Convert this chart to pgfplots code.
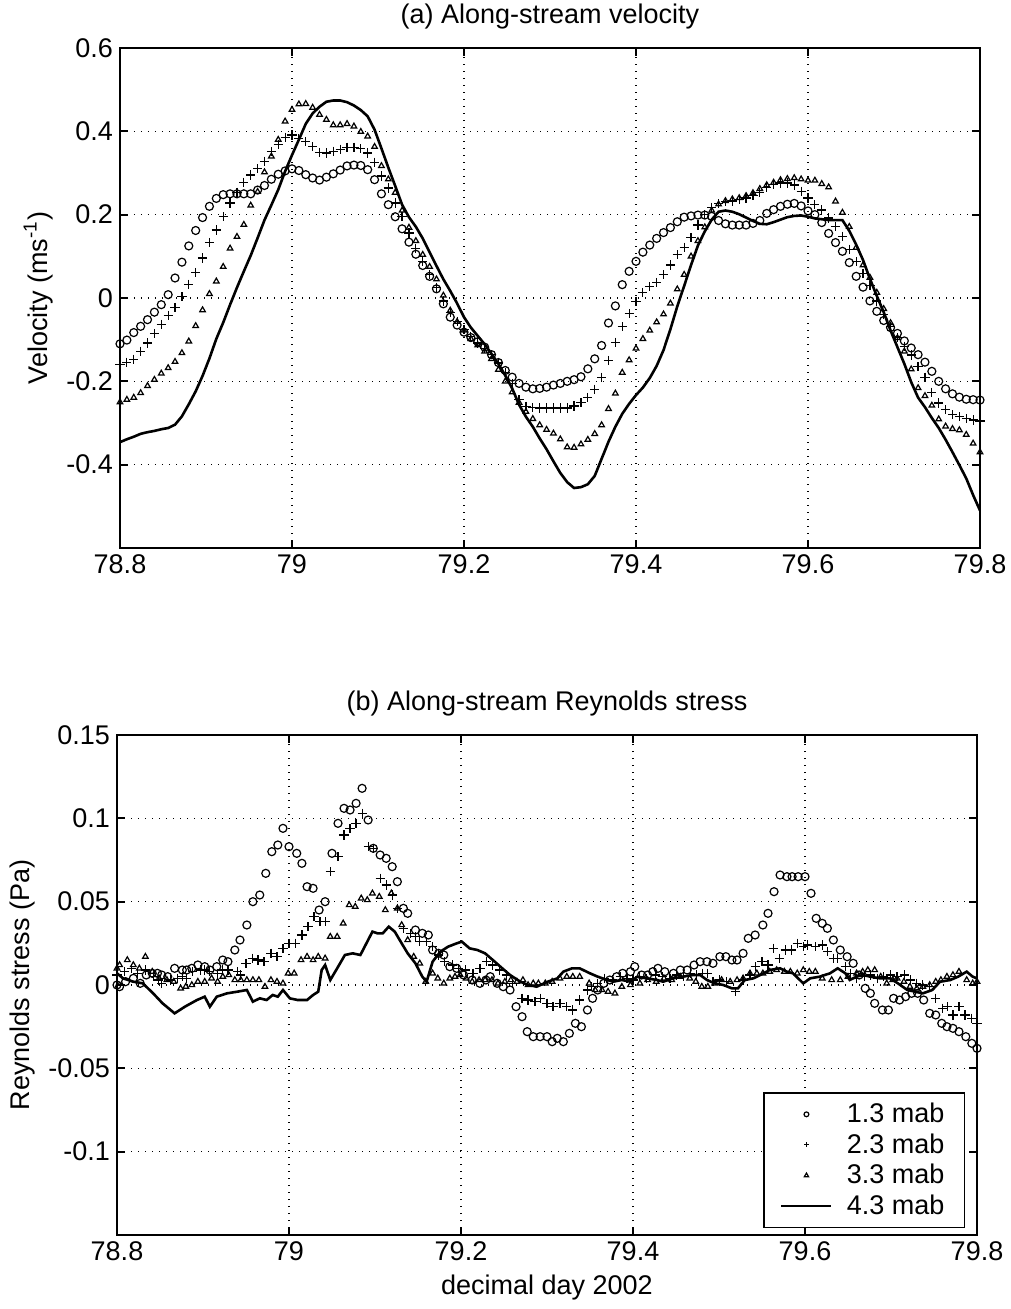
\documentclass[border=0pt]{standalone}
\usepackage{fontspec}
\setmainfont{Liberation Sans}
\usepackage{pgfplots}
\usepackage{pgfplotstable}
\pgfplotsset{compat=1.18}

\newcommand{\fs}{\fontsize{13.5}{16}\selectfont}

% along-stream velocity, four heights above bed (mab)
\pgfplotstableread{
x      u13    u23    u33    u43
78.800 -0.110 -0.160 -0.250 -0.346
78.808 -0.101 -0.154 -0.244 -0.339
78.816 -0.083 -0.147 -0.239 -0.333
78.824 -0.068 -0.128 -0.228 -0.326
78.832 -0.052 -0.108 -0.211 -0.322
78.840 -0.034 -0.086 -0.196 -0.319
78.848 -0.016 -0.063 -0.181 -0.315
78.856 0.008 -0.042 -0.168 -0.312
78.864 0.048 -0.023 -0.153 -0.304
78.872 0.086 0.003 -0.132 -0.284
78.880 0.125 0.033 -0.104 -0.255
78.888 0.162 0.061 -0.067 -0.224
78.896 0.193 0.096 -0.029 -0.187
78.904 0.220 0.133 0.010 -0.145
78.912 0.239 0.163 0.040 -0.098
78.920 0.248 0.195 0.075 -0.059
78.928 0.250 0.228 0.119 -0.016
78.936 0.250 0.254 0.147 0.025
78.944 0.250 0.278 0.176 0.064
78.952 0.250 0.295 0.222 0.102
78.960 0.259 0.310 0.255 0.144
78.968 0.270 0.328 0.302 0.187
78.976 0.285 0.351 0.340 0.223
78.984 0.297 0.369 0.380 0.260
78.992 0.305 0.386 0.424 0.304
79.000 0.310 0.391 0.452 0.343
79.008 0.306 0.383 0.465 0.380
79.016 0.296 0.375 0.466 0.418
79.024 0.288 0.363 0.457 0.443
79.032 0.283 0.349 0.440 0.459
79.040 0.290 0.348 0.428 0.471
79.048 0.298 0.352 0.415 0.474
79.056 0.307 0.357 0.415 0.474
79.064 0.317 0.362 0.418 0.470
79.072 0.319 0.362 0.412 0.462
79.080 0.318 0.358 0.399 0.451
79.088 0.308 0.348 0.388 0.436
79.096 0.284 0.326 0.363 0.404
79.104 0.250 0.293 0.317 0.359
79.112 0.224 0.264 0.285 0.313
79.120 0.195 0.228 0.253 0.269
79.128 0.166 0.195 0.210 0.224
79.136 0.134 0.156 0.169 0.194
79.144 0.105 0.118 0.137 0.171
79.152 0.078 0.087 0.104 0.143
79.160 0.052 0.056 0.075 0.110
79.168 0.022 0.026 0.045 0.077
79.176 -0.014 -0.007 0.006 0.045
79.184 -0.046 -0.034 -0.030 0.017
79.192 -0.065 -0.056 -0.057 -0.013
79.200 -0.082 -0.076 -0.078 -0.046
79.208 -0.095 -0.092 -0.098 -0.071
79.216 -0.105 -0.108 -0.113 -0.091
79.224 -0.118 -0.121 -0.128 -0.111
79.232 -0.136 -0.136 -0.146 -0.134
79.240 -0.155 -0.156 -0.172 -0.158
79.248 -0.174 -0.178 -0.200 -0.186
79.256 -0.190 -0.205 -0.226 -0.217
79.264 -0.205 -0.244 -0.251 -0.256
79.272 -0.214 -0.260 -0.273 -0.285
79.280 -0.218 -0.263 -0.290 -0.309
79.288 -0.217 -0.264 -0.305 -0.337
79.296 -0.214 -0.264 -0.316 -0.363
79.304 -0.209 -0.264 -0.325 -0.392
79.312 -0.205 -0.264 -0.339 -0.420
79.320 -0.200 -0.264 -0.358 -0.442
79.328 -0.196 -0.259 -0.359 -0.456
79.336 -0.189 -0.251 -0.351 -0.454
79.344 -0.170 -0.239 -0.340 -0.447
79.352 -0.146 -0.219 -0.326 -0.427
79.360 -0.114 -0.190 -0.305 -0.386
79.368 -0.060 -0.150 -0.266 -0.345
79.376 -0.019 -0.106 -0.229 -0.309
79.384 0.032 -0.069 -0.179 -0.278
79.392 0.064 -0.037 -0.149 -0.254
79.400 0.088 -0.008 -0.121 -0.233
79.408 0.110 0.013 -0.098 -0.215
79.416 0.127 0.027 -0.078 -0.192
79.424 0.143 0.037 -0.058 -0.163
79.432 0.157 0.056 -0.039 -0.125
79.440 0.169 0.079 -0.013 -0.075
79.448 0.183 0.104 0.021 -0.020
79.456 0.194 0.122 0.056 0.029
79.464 0.197 0.145 0.100 0.079
79.472 0.199 0.175 0.137 0.126
79.480 0.199 0.200 0.170 0.160
79.488 0.196 0.218 0.210 0.188
79.496 0.186 0.226 0.225 0.207
79.504 0.178 0.231 0.233 0.210
79.512 0.175 0.233 0.237 0.207
79.520 0.175 0.236 0.240 0.201
79.528 0.175 0.240 0.245 0.193
79.536 0.179 0.246 0.252 0.185
79.544 0.186 0.254 0.262 0.178
79.552 0.203 0.265 0.271 0.177
79.560 0.212 0.273 0.277 0.182
79.568 0.220 0.276 0.283 0.188
79.576 0.225 0.276 0.286 0.194
79.584 0.227 0.271 0.288 0.197
79.592 0.221 0.256 0.285 0.198
79.600 0.209 0.240 0.282 0.195
79.608 0.200 0.224 0.282 0.191
79.616 0.181 0.211 0.274 0.189
79.624 0.155 0.192 0.266 0.187
79.632 0.133 0.171 0.232 0.187
79.640 0.112 0.148 0.205 0.187
79.648 0.085 0.117 0.171 0.161
79.656 0.052 0.087 0.121 0.128
79.664 0.026 0.059 0.079 0.091
79.672 -0.007 0.030 0.049 0.046
79.680 -0.032 -0.007 0.013 0.005
79.688 -0.054 -0.040 -0.026 -0.034
79.696 -0.071 -0.069 -0.060 -0.078
79.704 -0.085 -0.095 -0.096 -0.118
79.712 -0.103 -0.116 -0.128 -0.158
79.720 -0.120 -0.137 -0.171 -0.202
79.728 -0.136 -0.165 -0.216 -0.239
79.736 -0.154 -0.190 -0.235 -0.262
79.744 -0.176 -0.226 -0.258 -0.288
79.752 -0.200 -0.252 -0.291 -0.312
79.760 -0.218 -0.268 -0.308 -0.340
79.768 -0.230 -0.280 -0.314 -0.370
79.776 -0.238 -0.285 -0.317 -0.401
79.784 -0.243 -0.289 -0.328 -0.433
79.792 -0.244 -0.293 -0.349 -0.473
79.800 -0.245 -0.295 -0.370 -0.510
}\veltable

% Reynolds stress, one table per height
\pgfplotstableread{
x y
78.800 0.000
78.803 -0.001
78.810 0.002
78.819 0.004
78.827 0.001
78.834 0.006
78.841 0.007
78.847 0.007
78.852 0.006
78.859 0.005
78.867 0.010
78.876 0.009
78.881 0.009
78.887 0.010
78.894 0.012
78.902 0.011
78.908 0.009
78.916 0.011
78.923 0.015
78.929 0.014
78.937 0.021
78.943 0.027
78.951 0.036
78.958 0.050
78.966 0.054
78.973 0.067
78.980 0.080
78.987 0.084
78.993 0.094
79.000 0.083
79.009 0.079
79.015 0.073
79.021 0.059
79.028 0.058
79.035 0.045
79.042 0.050
79.050 0.079
79.057 0.097
79.064 0.106
79.071 0.105
79.078 0.109
79.085 0.118
79.092 0.099
79.098 0.082
79.106 0.078
79.113 0.076
79.120 0.071
79.126 0.062
79.133 0.046
79.138 0.043
79.147 0.033
79.155 0.031
79.162 0.030
79.167 0.021
79.174 0.019
79.180 0.018
79.187 0.011
79.195 0.010
79.203 0.006
79.213 0.003
79.222 0.001
79.229 0.003
79.234 0.005
79.242 0.001
79.249 -0.001
79.257 -0.003
79.264 -0.013
79.271 -0.019
79.277 -0.028
79.284 -0.031
79.292 -0.031
79.300 -0.031
79.306 -0.034
79.312 -0.032
79.319 -0.034
79.326 -0.029
79.333 -0.023
79.340 -0.025
79.347 -0.015
79.353 -0.008
79.359 -0.003
79.366 0.001
79.373 0.003
79.381 0.005
79.388 0.007
79.397 0.008
79.402 0.011
79.410 0.006
79.417 0.006
79.423 0.008
79.429 0.010
79.437 0.008
79.447 0.007
79.455 0.009
79.463 0.009
79.471 0.012
79.478 0.014
79.486 0.014
79.493 0.013
79.501 0.017
79.508 0.017
79.515 0.015
79.521 0.015
79.528 0.019
79.534 0.028
79.542 0.030
79.551 0.036
79.557 0.043
79.564 0.056
79.571 0.066
79.579 0.065
79.585 0.065
79.592 0.065
79.600 0.065
79.607 0.055
79.613 0.040
79.620 0.037
79.626 0.034
79.633 0.027
79.641 0.021
79.649 0.017
79.656 0.013
79.663 0.006
79.670 -0.002
79.676 -0.005
79.681 -0.011
79.690 -0.015
79.697 -0.015
79.703 -0.008
79.710 -0.009
79.717 -0.007
79.724 -0.005
79.731 -0.005
79.738 -0.009
79.745 -0.017
79.752 -0.018
79.759 -0.023
79.765 -0.025
79.772 -0.026
79.779 -0.028
79.787 -0.031
79.794 -0.035
79.800 -0.038
}\rsa

\pgfplotstableread{
x y
78.800 0.006
78.809 0.008
78.817 0.010
78.824 0.007
78.833 0.009
78.842 0.005
78.848 0.003
78.852 0.001
78.862 0.003
78.870 0.004
78.876 0.005
78.881 0.004
78.888 0.008
78.897 0.009
78.902 0.009
78.908 0.008
78.917 0.007
78.923 0.009
78.929 0.009
78.940 0.008
78.944 0.006
78.950 0.013
78.958 0.016
78.964 0.015
78.971 0.014
78.979 0.019
78.986 0.017
78.993 0.022
79.000 0.025
79.008 0.025
79.015 0.030
79.022 0.035
79.029 0.041
79.036 0.038
79.042 0.038
79.048 0.068
79.057 0.077
79.064 0.090
79.071 0.094
79.078 0.097
79.085 0.103
79.092 0.083
79.098 0.082
79.106 0.064
79.113 0.060
79.120 0.054
79.126 0.046
79.133 0.034
79.141 0.031
79.147 0.029
79.152 0.026
79.160 0.026
79.167 0.023
79.174 0.018
79.181 0.014
79.190 0.012
79.197 0.010
79.205 0.009
79.214 0.007
79.222 0.010
79.230 0.014
79.237 0.012
79.245 0.009
79.253 0.006
79.260 0.001
79.271 -0.008
79.278 -0.009
79.286 -0.010
79.292 -0.008
79.300 -0.011
79.307 -0.013
79.315 -0.011
79.323 -0.013
79.330 -0.015
79.338 -0.009
79.347 -0.003
79.352 -0.001
79.359 0.001
79.367 0.004
79.376 0.003
79.385 0.005
79.393 0.004
79.400 0.003
79.408 0.005
79.416 0.004
79.426 0.006
79.434 0.005
79.443 0.004
79.451 0.006
79.459 0.005
79.467 0.007
79.474 0.006
79.481 0.007
79.487 0.007
79.493 0.002
79.501 0.003
79.509 0.002
79.519 -0.004
79.528 0.003
79.536 0.006
79.542 0.011
79.550 0.014
79.557 0.012
79.563 0.022
79.570 0.016
79.577 0.021
79.584 0.021
79.591 0.025
79.598 0.023
79.603 0.024
79.612 0.023
79.620 0.024
79.626 0.020
79.633 0.016
79.638 0.016
79.647 0.011
79.653 0.007
79.660 0.004
79.669 0.005
79.676 0.006
79.684 0.004
79.691 0.005
79.699 0.006
79.707 0.005
79.716 0.006
79.723 0.003
79.730 0.001
79.737 0.000
79.745 -0.001
79.752 -0.008
79.760 -0.014
79.766 -0.013
79.772 -0.018
79.779 -0.013
79.786 -0.018
79.794 -0.020
79.800 -0.023
}\rsb

\pgfplotstableread{
x y
78.800 0.010
78.803 0.012
78.812 0.015
78.819 0.012
78.826 0.010
78.833 0.017
78.841 0.008
78.849 0.004
78.858 0.003
78.866 0.002
78.874 -0.002
78.880 -0.001
78.887 0.000
78.894 0.002
78.902 0.002
78.910 0.004
78.917 0.002
78.923 0.005
78.930 0.006
78.937 0.003
78.944 0.003
78.951 0.003
78.958 0.003
78.965 0.003
78.972 -0.001
78.979 0.003
78.986 0.002
78.993 0.001
78.999 0.007
79.006 0.007
79.014 0.015
79.021 0.017
79.028 0.015
79.034 0.017
79.042 0.016
79.048 0.029
79.056 0.029
79.063 0.037
79.070 0.048
79.077 0.047
79.084 0.052
79.091 0.051
79.097 0.055
79.105 0.053
79.112 0.045
79.119 0.055
79.126 0.046
79.131 0.036
79.138 0.027
79.145 0.017
79.152 0.013
79.159 0.002
79.167 0.007
79.173 0.004
79.180 0.001
79.187 0.004
79.193 0.005
79.199 0.006
79.206 0.004
79.213 0.002
79.221 0.003
79.228 0.003
79.236 0.003
79.243 0.001
79.251 0.002
79.258 0.003
79.265 0.002
79.272 0.003
79.278 0.000
79.284 0.001
79.290 0.001
79.298 0.001
79.306 0.002
79.315 0.004
79.323 0.005
79.330 0.005
79.338 0.005
79.349 0.001
79.356 -0.003
79.364 -0.003
79.371 -0.004
79.379 -0.005
79.387 -0.001
79.397 0.000
79.408 0.001
79.417 0.003
79.427 0.002
79.436 0.004
79.445 0.003
79.455 0.005
79.466 0.004
79.473 0.002
79.480 -0.001
79.487 -0.001
79.495 0.001
79.503 0.003
79.513 0.002
79.521 0.003
79.528 0.004
79.536 0.007
79.544 0.007
79.551 0.007
79.559 0.008
79.567 0.009
79.576 0.008
79.583 0.008
79.591 0.007
79.598 0.009
79.605 0.008
79.612 0.008
79.620 0.004
79.631 0.003
79.641 0.003
79.650 0.005
79.660 0.007
79.667 0.008
79.673 0.009
79.681 0.009
79.688 0.005
79.695 0.001
79.702 0.003
79.707 0.004
79.715 0.002
79.722 -0.001
79.730 -0.002
79.737 -0.001
79.745 0.000
79.752 0.002
79.758 0.003
79.765 0.005
79.772 0.006
79.779 0.008
79.788 0.003
79.795 0.001
79.800 0.002
}\rsc

\pgfplotstableread{
x y
78.800 0.007
78.807 0.004
78.819 0.002
78.830 0.001
78.842 -0.005
78.853 -0.011
78.867 -0.017
78.879 -0.013
78.893 -0.009
78.902 -0.007
78.908 -0.013
78.916 -0.007
78.928 -0.005
78.940 -0.004
78.951 -0.003
78.958 -0.010
78.966 -0.008
78.974 -0.009
78.981 -0.006
78.987 -0.007
78.993 -0.003
79.001 -0.008
79.010 -0.009
79.021 -0.009
79.028 -0.006
79.034 -0.004
79.038 0.009
79.042 0.012
79.048 0.003
79.056 0.010
79.065 0.018
79.074 0.019
79.083 0.018
79.088 0.023
79.097 0.032
79.103 0.031
79.109 0.031
79.116 0.035
79.123 0.032
79.131 0.025
79.138 0.019
79.147 0.013
79.155 0.005
79.160 0.002
79.167 0.014
79.176 0.020
79.185 0.023
79.195 0.025
79.201 0.026
79.210 0.022
79.219 0.021
79.228 0.019
79.237 0.015
79.248 0.010
79.257 0.006
79.269 0.002
79.278 0.000
79.288 -0.001
79.301 0.002
79.312 0.004
79.319 0.008
79.329 0.010
79.338 0.010
79.350 0.007
79.359 0.005
79.370 0.003
79.377 0.002
79.387 0.003
79.397 0.002
79.405 0.005
79.416 0.004
79.428 0.003
79.435 0.002
79.447 0.004
79.458 0.005
79.470 0.006
79.478 0.006
79.486 0.003
79.495 0.001
79.505 0.000
79.515 -0.002
79.522 -0.002
79.530 0.003
79.540 0.004
79.548 0.006
79.559 0.009
79.571 0.010
79.579 0.008
79.586 0.007
79.598 0.001
79.606 0.004
79.617 0.005
79.629 0.007
79.638 0.010
79.647 0.007
79.652 0.003
79.660 0.005
79.667 0.006
79.676 0.005
79.687 0.004
79.699 0.004
79.708 0.001
79.719 -0.003
79.728 -0.004
79.737 -0.005
79.748 -0.003
79.757 0.002
79.769 0.003
79.778 0.005
79.788 0.008
79.795 0.005
79.800 0.004
}\rsd

\pgfplotsset{
  panel/.style={
    scale only axis, width=430pt, height=250pt,
    xmin=78.8, xmax=79.8,
    xtick={78.8,79,79.2,79.4,79.6,79.8},
    grid=major,
    grid style={black, line width=0.7pt, dash pattern=on 0.7pt off 2.8pt},
    axis line style={line width=0.9pt},
    tick align=inside,
    major tick length=4pt,
    tick style={black, line width=0.9pt},
    tick label style={font=\fs},
    label style={font=\fs},
    title style={font=\fs},
    /pgf/number format/assume math mode=true,
    /pgf/number format/fixed,
    /pgf/number format/precision=2,
    scaled ticks=false,
    legend image code/.code={
      \draw[mark repeat=2,mark phase=2,##1] plot coordinates {(0pt,0pt) (12.5pt,0pt) (25pt,0pt)};
    },
  },
  s13/.style={only marks, mark=o, mark size=2pt, line width=0.6pt, black},
  s23/.style={only marks, mark=+, mark size=2.3pt, line width=0.6pt, black},
  s33/.style={only marks, mark=triangle, mark size=1.6pt, line width=0.6pt, black},
  s43/.style={no marks, line width=1.3pt, black},
}

\begin{document}
\begin{tikzpicture}
\useasboundingbox (-60pt,-380.5pt) rectangle (445pt,274pt);

\begin{axis}[panel,
  at={(0pt,0pt)}, anchor=south west,
  ymin=-0.6, ymax=0.6,
  ytick={-0.4,-0.2,0,0.2,0.4,0.6},
  title={(a) Along-stream velocity},
  ylabel={Velocity (ms\textsuperscript{-1})},
]
\addplot[s13] table[x=x, y=u13] {\veltable};
\addplot[s23] table[x=x, y=u23] {\veltable};
\addplot[s33] table[x=x, y=u33] {\veltable};
\addplot[s43] table[x=x, y=u43] {\veltable};
\end{axis}

\begin{axis}[panel,
  at={(-1.5pt,-343.5pt)}, anchor=south west,
  ymin=-0.15, ymax=0.15,
  ytick={-0.1,-0.05,0,0.05,0.1,0.15},
  title={(b) Along-stream Reynolds stress},
  ylabel={Reynolds stress (Pa)},
  xlabel={decimal day 2002},
  legend style={at={(1,0)}, anchor=south east, xshift=-6pt, yshift=3.5pt,
    draw=black, line width=0.7pt, font=\fs, cells={anchor=west},
    inner xsep=8pt, inner ysep=3pt, row sep=0pt, column sep=5pt},
  legend image post style={mark size=1.2pt},
]
\addplot[s13] table {\rsa};
\addlegendentry{1.3 mab}
\addplot[s23] table {\rsb};
\addlegendentry{2.3 mab}
\addplot[s33] table {\rsc};
\addlegendentry{3.3 mab}
\addplot[s43] table {\rsd};
\addlegendentry{4.3 mab}
\end{axis}
\end{tikzpicture}
\end{document}
